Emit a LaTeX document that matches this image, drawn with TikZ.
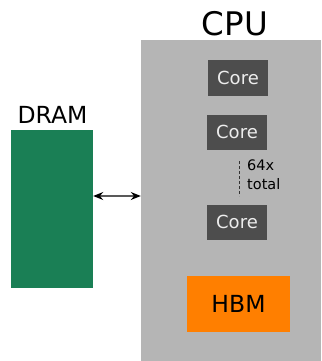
\documentclass[tikz,border=0pt]{standalone}
\usepackage{fontspec}
\setmainfont{DejaVu Sans}
\usetikzlibrary{arrows.meta}

\definecolor{cpugray}{HTML}{B5B5B5}
\definecolor{coregray}{HTML}{4D4D4D}
\definecolor{dramgreen}{HTML}{1A7F55}
\definecolor{hbmorange}{HTML}{FF7F00}

\tikzset{
  corebox/.style={fill=coregray, text=white!93!black, minimum width=60pt,
    minimum height=35pt, inner sep=0pt, font=\fontsize{18}{21}\selectfont},
  biglabel/.style={anchor=base, inner sep=0pt, font=\fontsize{23.5}{28}\selectfont},
  linktip/.tip={Stealth[length=10pt, width=8pt, color=black]}
}

\begin{document}
\begin{tikzpicture}[x=1pt, y=-1pt]
  \useasboundingbox (0,0) rectangle (321,361);

  % Memory on the left
  \node[fill=dramgreen, minimum width=82pt, minimum height=158pt, inner sep=0pt]
    (dram) at (52,209) {};
  \node[biglabel] (dramlabel) at (52.5,123) {DRAM};

  % Processor package
  \node[fill=cpugray, minimum width=180pt, minimum height=321pt, inner sep=0pt]
    (cpu) at (231,200.5) {};
  \node[biglabel, font=\fontsize{32.5}{38}\selectfont] (cpulabel) at (235,36) {CPU};

  % Cores, only three of them shown
  \foreach \name/\cx/\cy in {coreA/238/78, coreB/237/132, coreC/237/222} {
    \node[corebox] (\name) at (\cx,\cy) {Core};
  }
  \draw[dashed, dash pattern=on 3pt off 2pt, line width=0.8pt, black!80]
    (239,161) -- (239,196);
  \node[anchor=north west, inner sep=0pt, align=left,
    font=\fontsize{14.5}{19}\selectfont] (count) at (247,160) {64x\\total};

  % On-package memory
  \node[fill=hbmorange, minimum width=103pt, minimum height=56pt, inner sep=0pt,
    font=\fontsize{23.5}{28}\selectfont] (hbm) at (238.5,304) {HBM};

  % Link between the two
  \draw[linktip-linktip, line width=1.3pt, black!65]
    ([yshift=13pt]dram.east) -- ([yshift=13pt]dram.east -| cpu.west);
\end{tikzpicture}
\end{document}
